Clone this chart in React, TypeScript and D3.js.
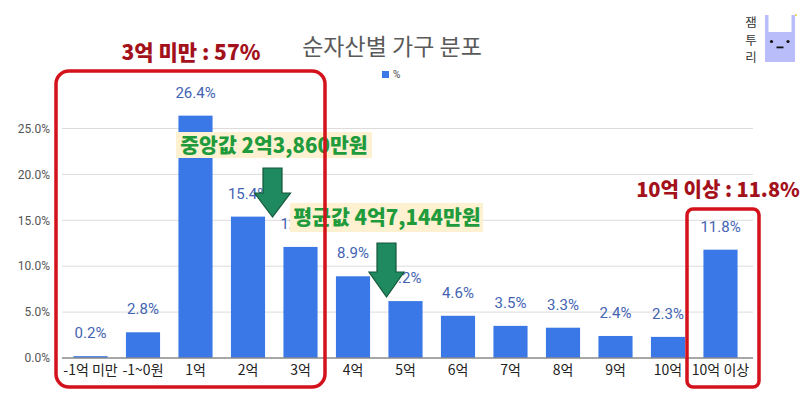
import * as d3 from 'd3';

const categories = ['-1억 미만', '-1~0원', '1억', '2억', '3억', '4억', '5억', '6억', '7억', '8억', '9억', '10억', '10억 이상'];
const values = [0.2, 2.8, 26.4, 15.4, 12.1, 8.9, 6.2, 4.6, 3.5, 3.3, 2.4, 2.3, 11.8];
const yTicks = [0, 5, 10, 15, 20, 25];

const KR = "'Noto Sans CJK KR', 'Noto Sans', sans-serif";
const NUM = "Roboto, 'Noto Sans CJK KR', sans-serif";
const BLUE = '#3b78e7';
const RED = '#d3121b';
const DARK_RED = '#a3111b';
const GREEN = '#1f9b3c';
const ARROW = '#1f8a5f';

function Arrow({ x, top, baseY, tipY, shaftW, headW }: { x: number; top: number; baseY: number; tipY: number; shaftW: number; headW: number }) {
  const s = shaftW / 2;
  const h = headW / 2;
  const d = `M${x - s},${top} L${x + s},${top} L${x + s},${baseY} L${x + h},${baseY} L${x},${tipY} L${x - h},${baseY} L${x - s},${baseY} Z`;
  return <path d={d} fill={ARROW} stroke="#14573a" strokeWidth={1.2} />;
}

export default function App() {
  const x = d3.scaleBand<string>().domain(categories).range([64.25, 746.75]).paddingInner(0.35).paddingOuter(0.175);
  const y = d3.scaleLinear().domain([0, 30]).range([358, 82.6]);
  const bw = x.bandwidth();

  return (
    <div style={{ position: 'fixed', left: 0, top: 0, width: 800, height: 398, background: '#fff' }}>
      <svg width={800} height={398} style={{ display: 'block' }}>
        {/* title + legend */}
        <text x={392} y={55} textAnchor="middle" fontFamily={KR} fontSize={23} fill="#5a5a5a">순자산별 가구 분포</text>
        <rect x={382} y={71} width={7} height={7} fill={BLUE} />
        <text x={393} y={78} fontFamily={NUM} fontSize={10} fill="#444">%</text>

        {/* grid */}
        {yTicks.filter(t => t > 0).map(t => (
          <line key={t} x1={62} x2={753} y1={y(t)} y2={y(t)} stroke="#dcdcdc" strokeWidth={1} />
        ))}
        {yTicks.map(t => (
          <text key={'l' + t} x={50} y={y(t)} dy="0.35em" textAnchor="end" fontFamily={NUM} fontSize={12} fill="#555">
            {t.toFixed(1)}%
          </text>
        ))}

        {/* bars */}
        {categories.map((c, i) => (
          <rect key={c} x={x(c)} y={y(values[i])} width={bw} height={y(0) - y(values[i])} fill={BLUE} />
        ))}
        {categories.map((c, i) => (
          <text key={'v' + c} x={x(c)! + bw / 2} y={y(values[i]) - 18} textAnchor="middle" fontFamily={NUM} fontSize={15} fill="#4363b3">
            {values[i].toFixed(1)}%
          </text>
        ))}
        <line x1={62} x2={753} y1={y(0)} y2={y(0)} stroke="#8a8a8a" strokeWidth={1.5} />
        {categories.map(c => (
          <text key={'x' + c} x={x(c)! + bw / 2} y={375} textAnchor="middle" fontFamily={KR} fontSize={14} fill="#222">
            {c}
          </text>
        ))}

        {/* annotations */}
        <rect x={176} y={132} width={196} height={26} fill="#fdf1d2" />
        <text x={274} y={153} textAnchor="middle" fontFamily={KR} fontWeight={800} fontSize={20.5} fill={GREEN}>중앙값 2억3,860만원</text>
        <rect x={290} y={203} width={193} height={29} fill="#fdf1d2" />
        <text x={387} y={225} textAnchor="middle" fontFamily={KR} fontWeight={800} fontSize={20.5} fill={GREEN}>평균값 4억7,144만원</text>

        <Arrow x={272.5} top={168} baseY={193} tipY={217} shaftW={19} headW={36} />
        <Arrow x={386.5} top={243} baseY={272} tipY={297} shaftW={19} headW={35} />

        <rect x={56} y={71} width={269} height={316} rx={13} fill="none" stroke={RED} strokeWidth={3.5} />
        <rect x={687} y={209} width={72} height={178} rx={6} fill="none" stroke={RED} strokeWidth={3.5} />
        <text x={191} y={60} textAnchor="middle" fontFamily={KR} fontWeight={900} fontSize={21} fill={DARK_RED}>3억 미만 : 57%</text>
        <text x={718} y={197} textAnchor="middle" fontFamily={KR} fontWeight={900} fontSize={20} fill={DARK_RED}>10억 이상 : 11.8%</text>

        {/* logo */}
        <g fontFamily={KR} fontSize={12.5} fill="#333" textAnchor="middle">
          <text x={751} y={27}>잼</text>
          <text x={751} y={45}>투</text>
          <text x={751} y={62}>리</text>
        </g>
        <rect x={765} y={15} width={30} height={47} fill="#b9befa" />
        <rect x={768.5} y={14} width={23} height={18} fill="#fff" />
        <circle cx={771.5} cy={41.5} r={1.6} fill="#111" />
        <circle cx={788} cy={41.5} r={1.6} fill="#111" />
        <rect x={776.5} y={46.5} width={7} height={1.8} fill="#111" />
        <circle cx={796} cy={15} r={1} fill="#e8d23a" />
      </svg>
    </div>
  );
}
